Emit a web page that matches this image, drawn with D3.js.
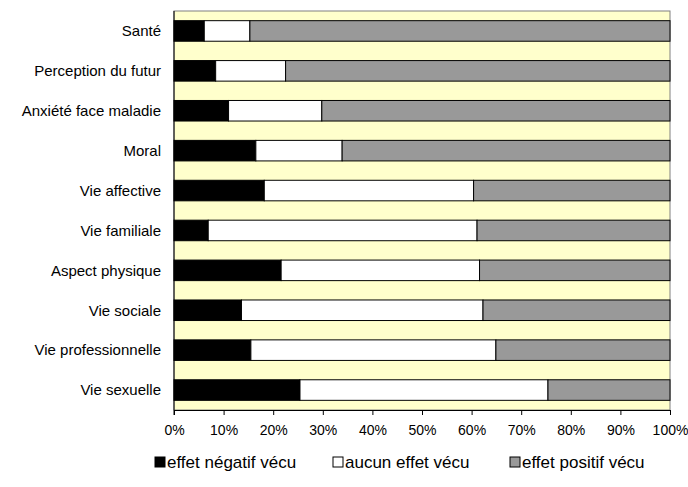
<!DOCTYPE html>
<html><head><meta charset="utf-8">
<script src="https://cdn.jsdelivr.net/npm/d3@7"></script>
<style>body{margin:0;background:#fff}svg{display:block;font-family:Arial,"Liberation Sans",sans-serif}</style>
</head><body><svg id="c" width="688" height="487"></svg>
<script>
const categories = ["Santé","Perception du futur","Anxiété face maladie","Moral","Vie affective","Vie familiale","Aspect physique","Vie sociale","Vie professionnelle","Vie sexuelle"];
const negatif = [6.1, 8.4, 11.0, 16.5, 18.2, 6.9, 21.6, 13.6, 15.5, 25.4];
const aucun   = [9.2, 14.1, 18.8, 17.4, 42.2, 54.2, 40.0, 48.7, 49.4, 50.0];
const positif = [84.7, 77.5, 70.2, 66.1, 39.6, 38.9, 38.4, 37.7, 35.1, 24.6];
const seriesNames = ["effet négatif vécu","aucun effet vécu","effet positif vécu"];
const seriesColors = ["#000000","#ffffff","#999999"];
const xTicks = [0,10,20,30,40,50,60,70,80,90,100];

const svg = d3.select("#c");
const L=174, R=670, T=11, B=410;
const x = d3.scaleLinear().domain([0,100]).range([L,R]);
const y = d3.scaleBand().domain(categories).range([T,B]).paddingInner(0.485).paddingOuter(0.2425);

svg.append("rect").attr("x",L).attr("y",T).attr("width",R-L).attr("height",B-T)
  .attr("fill","#ffffcc").attr("stroke","#808080").attr("stroke-width",1);

const rows = categories.map((c,i)=>({cat:c, negatif:negatif[i], aucun:aucun[i], positif:positif[i]}));
const stack = d3.stack().keys(["negatif","aucun","positif"])(rows);
stack.forEach((s,si)=>{
  svg.append("g").selectAll("rect").data(s).join("rect")
    .attr("x",d=>x(d[0])).attr("width",d=>x(Math.min(d[1],100))-x(d[0]))
    .attr("y",d=>y(d.data.cat)).attr("height",y.bandwidth())
    .attr("fill",seriesColors[si]).attr("stroke","#000").attr("stroke-width",1);
});

const xa = svg.append("g").attr("transform",`translate(0,${B})`)
  .call(d3.axisBottom(x).tickValues(xTicks).tickFormat(d=>d+"%").tickSize(5).tickSizeOuter(0));
xa.select(".domain").attr("stroke","#000");
xa.selectAll("text").attr("font-size",14).attr("font-family","Arial, 'Liberation Sans', sans-serif").attr("fill","#000").attr("dy","1.2em");

svg.append("line").attr("x1",L).attr("x2",L).attr("y1",T).attr("y2",B+5).attr("stroke","#000");
svg.append("g").selectAll("text").data(categories).join("text")
  .attr("x",161).attr("y",d=>y(d)+y.bandwidth()/2).attr("dy","0.35em")
  .attr("text-anchor","end").attr("font-size",15).attr("fill","#000").text(d=>d);

const legX = [155, 333, 510];
const lg = svg.append("g");
seriesNames.forEach((n,i)=>{
  lg.append("rect").attr("x",legX[i]).attr("y",457).attr("width",10).attr("height",10)
    .attr("fill",seriesColors[i]).attr("stroke","#000").attr("stroke-width",1);
  lg.append("text").attr("x",legX[i]+12).attr("y",468).attr("font-size",17).attr("fill","#000").text(n);
});
</script></body></html>
